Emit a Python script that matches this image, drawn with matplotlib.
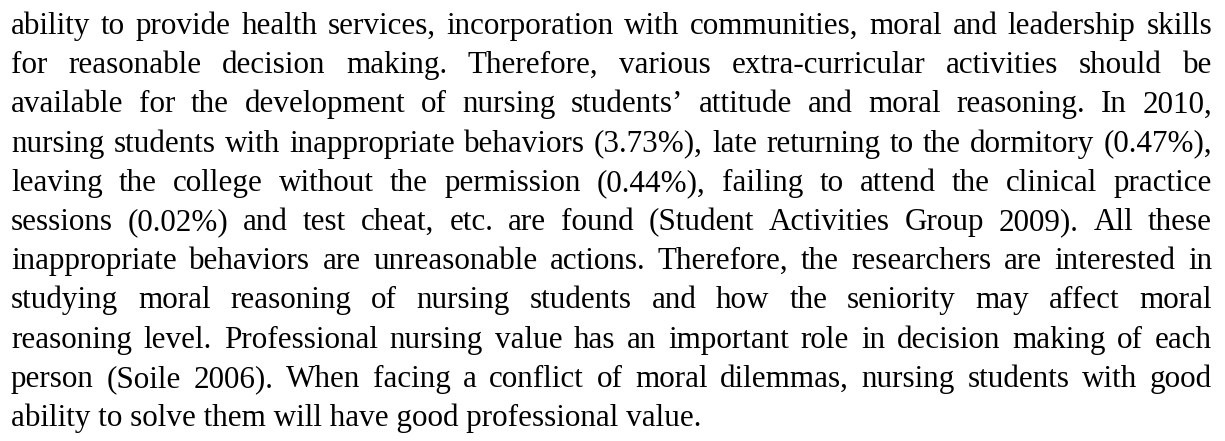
import matplotlib
matplotlib.use("Agg")
import matplotlib.pyplot as plt

# Paragraph text, one entry per printed line (last line is not justified)
lines = [
    "ability to provide health services, incorporation with communities, moral and leadership skills",
    "for reasonable decision making. Therefore, various extra-curricular activities should be",
    "available for the development of nursing students\u2019 attitude and moral reasoning. In 2010,",
    "nursing students with inappropriate behaviors (3.73%), late returning to the dormitory (0.47%),",
    "leaving the college without the permission (0.44%), failing to attend the clinical practice",
    "sessions (0.02%) and test cheat, etc. are found (Student Activities Group 2009). All these",
    "inappropriate behaviors are unreasonable actions. Therefore, the researchers are interested in",
    "studying moral reasoning of nursing students and how the seniority may affect moral",
    "reasoning level. Professional nursing value has an important role in decision making of each",
    "person (Soile 2006). When facing a conflict of moral dilemmas, nursing students with good",
    "ability to solve them will have good professional value.",
]

W, H = 1225, 441
left, right = 11, 1212       # text block edges (px)
first_base, step = 34, 39.2  # baseline of line 1 and line pitch (px)
fsize = 22.4

fig = plt.figure(figsize=(W / 100, H / 100), dpi=100)
fig.patch.set_facecolor("white")
renderer = fig.canvas.get_renderer()
font = dict(family="Liberation Serif", size=fsize, color="black")


def word_width(s):
    t = fig.text(0, 0, s, **font)
    w = t.get_window_extent(renderer).width
    t.remove()
    return w


for i, line in enumerate(lines):
    y = 1 - (first_base + i * step) / H
    if i == len(lines) - 1:
        fig.text(left / W, y, line, va="baseline", ha="left", **font)
        continue
    words = line.split(" ")
    widths = [word_width(w) for w in words]
    gap = (right - left - sum(widths)) / (len(words) - 1)
    x = left
    for w, ww in zip(words, widths):
        fig.text(x / W, y, w, va="baseline", ha="left", **font)
        x += ww + gap

fig.savefig("out.png", dpi=100, facecolor="white")
